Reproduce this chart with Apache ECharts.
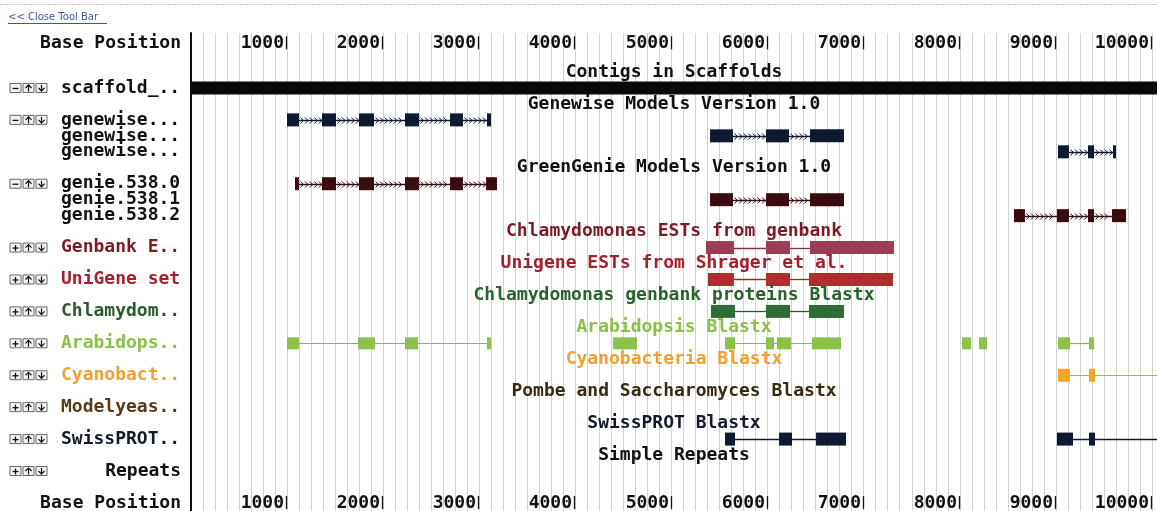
<!doctype html>
<html>
<head>
<meta charset="utf-8">
<title>Genome browser tracks</title>
<script src="https://cdn.jsdelivr.net/npm/echarts@6/dist/echarts.min.js"></script>
<style>
html, body { margin: 0; padding: 0; background: #fff; }
#main { width: 1157px; height: 511px; }
</style>
</head>
<body>
<div id="main"></div>
<script>
// ---- data (positions in bases, rows counted from the "Contigs in Scaffolds" title) ----
var baseMax = 10052;
var tickValues = [1000, 2000, 3000, 4000, 5000, 6000, 7000, 8000, 9000, 10000];
var tickRows = [-1.8, 27];

var titleNames = ['Contigs in Scaffolds', 'Genewise Models Version 1.0', 'GreenGenie Models Version 1.0',
  'Chlamydomonas ESTs from genbank', 'Unigene ESTs from Shrager et al.', 'Chlamydomonas genbank proteins Blastx',
  'Arabidopsis Blastx', 'Cyanobacteria Blastx', 'Pombe and Saccharomyces Blastx', 'SwissPROT Blastx', 'Simple Repeats'];
var titleRows = [0, 2, 6, 10, 12, 14, 16, 18, 20, 22, 24];
var titleCenter = 5026;

var sideNames = ['scaffold_..', 'genewise...', 'genewise...', 'genewise...', 'genie.538.0', 'genie.538.1', 'genie.538.2',
  'Genbank E..', 'UniGene set', 'Chlamydom..', 'Arabidops..', 'Cyanobact..', 'Modelyeas..', 'SwissPROT..', 'Repeats'];
var sideRows = [1, 3, 4, 5, 7, 8, 9, 11, 13, 15, 17, 19, 21, 23, 25];
var sideButtons = ['-', '-', '', '', '-', '', '', '+', '+', '+', '+', '+', '+', '+', '+'];

var scaffold = [[0, 10052]];
var genewise1 = [[999, 1124], [1363, 1509], [1748, 1904], [2227, 2373], [2695, 2830], [3080, 3122]];
var genewise2 = [[5401, 5640], [5983, 6223], [6441, 6795]];
var genewise3 = [[9022, 9136], [9334, 9397], [9594, 9615]];
var genie0 = [[1082, 1124], [1363, 1509], [1748, 1904], [2227, 2373], [2695, 2830], [3070, 3184]];
var genie1 = [[5401, 5640], [5983, 6223], [6441, 6795]];
var genie2 = [[8564, 8678], [9011, 9136], [9334, 9397], [9584, 9730]];
var genbankEst = [[5359, 5650], [5983, 6233], [6441, 7315]];
var unigeneEst = [[5380, 5650], [5983, 6233], [6431, 7305]];
var chlamProt = [[5411, 5661], [5983, 6233], [6431, 6795]];
var arabidopsis = [[999, 1124], [1738, 1915], [2227, 2362], [3080, 3122], [4391, 4641], [5557, 5661], [5983, 6067],
  [6098, 6243], [6462, 6764], [8023, 8117], [8200, 8283], [9022, 9147], [9344, 9397]];
var arabidopsisLinks = [[1124, 3080], [5661, 6462], [9147, 9344]];
var cyano = [[9022, 9147], [9344, 9407]];
var cyanoLinks = [[9147, 10060]];
var swissprot = [[5557, 5661], [6119, 6254], [6504, 6816], [9011, 9178], [9344, 9407]];
var swissprotLinks = [[5661, 6504], [9178, 10060]];

// ---- styles ----
var FONT = 'bold 18px "DejaVu Sans Mono"';
var titleColors = ['#111', '#111', '#111', '#7c1a2a', '#a3202c', '#2a622c', '#8cc04a', '#f0a030', '#3a2a12', '#141a2a', '#111'];
var sideColors = ['#111', '#111', '#111', '#111', '#111', '#111', '#111', '#7c1a2a', '#a3202c', '#2a5a2a', '#8cc04a', '#f0a030', '#5a3a18', '#141a2a', '#111'];

function gaps(exons) {
  var out = [];
  for (var i = 1; i < exons.length; i++) out.push([exons[i - 1][1], exons[i][0]]);
  return out;
}

function boxSeries(list, row, color, h) {
  return {
    type: 'custom', silent: true, clip: true, z: 4,
    encode: { x: [0, 1], y: 2 },
    data: list.map(function (d) { return [d[0], d[1], row]; }),
    renderItem: function (params, api) {
      var a = api.coord([api.value(0), api.value(2)]);
      var b = api.coord([api.value(1), api.value(2)]);
      return { type: 'rect', shape: { x: a[0], y: a[1] - h / 2, width: Math.max(b[0] - a[0], 3), height: h },
        style: { fill: color } };
    }
  };
}

function lineSeries(list, row, color, width, arrows) {
  return {
    type: 'custom', silent: true, clip: true, z: 3,
    encode: { x: [0, 1], y: 2 },
    data: list.map(function (d) { return [d[0], d[1], row]; }),
    renderItem: function (params, api) {
      var a = api.coord([api.value(0), api.value(2)]);
      var b = api.coord([api.value(1), api.value(2)]);
      var y = Math.round(a[1]) + 0.5;
      var kids = [{ type: 'line', shape: { x1: a[0], y1: y, x2: b[0], y2: y }, style: { stroke: color, lineWidth: width } }];
      if (arrows) {
        for (var x = a[0] + 3.5; x < b[0] - 1; x += 4.6) {
          kids.push({ type: 'polyline', shape: { points: [[x - 2, y - 3], [x + 1, y], [x - 2, y + 3]] },
            style: { stroke: color, lineWidth: 1, fill: null } });
        }
      }
      return { type: 'group', children: kids };
    }
  };
}

function textSeries(values, names, colors) {
  return {
    type: 'custom', silent: true, clip: false, z: 5,
    encode: { x: 0, y: 1 },
    data: values,
    renderItem: function (params, api) {
      var p = api.coord([api.value(0), api.value(1)]);
      return { type: 'text', x: p[0], y: p[1],
        style: { text: names[params.dataIndex], fill: colors[params.dataIndex], font: FONT, align: 'center', verticalAlign: 'middle' } };
    }
  };
}

// ruler: number followed by a short bar marking the exact base
function tickSeries(values) {
  return {
    type: 'custom', silent: true, clip: false, z: 5,
    encode: { x: 0, y: 1 },
    data: values,
    renderItem: function (params, api) {
      var p = api.coord([api.value(0), api.value(1)]);
      var x = Math.round(p[0]) - 0.5;
      return { type: 'group', children: [
        { type: 'text', x: x - 2.5, y: p[1], style: { text: String(api.value(0)), fill: '#111', font: FONT, align: 'right', verticalAlign: 'middle' } },
        { type: 'line', shape: { x1: x, y1: p[1] - 7, x2: x, y2: p[1] + 6 }, style: { stroke: '#111', lineWidth: 1.3 } }
      ] };
    }
  };
}

var tickData = [];
tickRows.forEach(function (r) {
  tickValues.forEach(function (v) { tickData.push([v, r]); });
});

var geneNavy = '#0e1a30', genieRed = '#3a0c12';
var series = [
  boxSeries(scaffold, 1, '#0a0a0a', 13),
  lineSeries(gaps(genewise1), 3, geneNavy, 1.5, true), boxSeries(genewise1, 3, geneNavy, 13),
  lineSeries(gaps(genewise2), 4, geneNavy, 1.5, true), boxSeries(genewise2, 4, geneNavy, 13),
  lineSeries(gaps(genewise3), 5, geneNavy, 1.5, true), boxSeries(genewise3, 5, geneNavy, 13),
  lineSeries(gaps(genie0), 7, genieRed, 1.5, true), boxSeries(genie0, 7, genieRed, 13),
  lineSeries(gaps(genie1), 8, genieRed, 1.5, true), boxSeries(genie1, 8, genieRed, 13),
  lineSeries(gaps(genie2), 9, genieRed, 1.5, true), boxSeries(genie2, 9, genieRed, 13),
  lineSeries(gaps(genbankEst), 11, '#8a3048', 1.3, false), boxSeries(genbankEst, 11, '#9a3d56', 13),
  lineSeries(gaps(unigeneEst), 13, '#a02828', 1.3, false), boxSeries(unigeneEst, 13, '#b02e30', 13),
  lineSeries(gaps(chlamProt), 15, '#2a6030', 1.3, false), boxSeries(chlamProt, 15, '#2f6c38', 13),
  lineSeries(arabidopsisLinks, 17, '#86bc44', 1.2, false), boxSeries(arabidopsis, 17, '#8cc24a', 12),
  lineSeries(cyanoLinks, 19, '#f0a020', 1.2, false), boxSeries(cyano, 19, '#f5a623', 13),
  lineSeries(swissprotLinks, 23, '#0e1a30', 1.3, false), boxSeries(swissprot, 23, '#0e1a30', 13),
  textSeries(titleRows.map(function (r) { return [titleCenter, r]; }), titleNames, titleColors),
  tickSeries(tickData)
];

var option = {
  animation: false,
  backgroundColor: '#fff',
  grid: { left: 191, right: 0, top: 33, bottom: 0 },
  xAxis: {
    type: 'value', min: 0, max: baseMax, interval: 125,
    axisLine: { show: false }, axisTick: { show: false }, axisLabel: { show: false },
    splitLine: { show: true, lineStyle: { color: '#d2d2d2', width: 1 } }
  },
  yAxis: {
    type: 'value', inverse: true, min: -2.444, max: 27.506,
    axisLine: { show: true, lineStyle: { color: '#111', width: 2 } },
    axisTick: { show: false }, axisLabel: { show: false }, splitLine: { show: false }
  },
  series: series
};

var myChart = echarts.init(document.getElementById('main'));
myChart.setOption(option);

// left hand labels and the little +/up/down buttons, placed on the chart's own rows
function rowY(r) { return myChart.convertToPixel({ gridIndex: 0 }, [0, r])[1]; }

function button(x, y, kind) {
  var kids = [{ type: 'rect', shape: { x: x, y: y - 4.5, width: 11, height: 9 }, style: { fill: '#f4f4f4', stroke: '#666', lineWidth: 1 } }];
  var cx = x + 5.5;
  if (kind === '-' || kind === '+') {
    kids.push({ type: 'line', shape: { x1: x + 2.5, y1: y + 0.5, x2: x + 8.5, y2: y + 0.5 }, style: { stroke: '#111', lineWidth: 1.3 } });
    if (kind === '+') kids.push({ type: 'line', shape: { x1: cx, y1: y - 2.5, x2: cx, y2: y + 3.5 }, style: { stroke: '#111', lineWidth: 1.3 } });
  } else {
    var up = kind === 'up';
    kids.push({ type: 'line', shape: { x1: cx, y1: y - 3, x2: cx, y2: y + 3.5 }, style: { stroke: '#111', lineWidth: 1.2 } });
    kids.push({ type: 'polyline', shape: { points: up ? [[cx - 3, y], [cx, y - 3], [cx + 3, y]] : [[cx - 3, y], [cx, y + 3], [cx + 3, y]] },
      style: { stroke: '#111', lineWidth: 1.2, fill: null } });
  }
  return kids;
}

var graphics = [
  { type: 'line', shape: { x1: 0, y1: 4.5, x2: 1157, y2: 4.5 }, style: { stroke: '#c4c4c4', lineWidth: 1, lineDash: [2, 1] } },
  { type: 'text', x: 8, y: 17, style: { text: '<< Close Tool Bar', font: '10px "DejaVu Sans"', fill: '#3a56a8', verticalAlign: 'middle' } },
  { type: 'line', shape: { x1: 8, y1: 23.5, x2: 107, y2: 23.5 }, style: { stroke: '#3a56a8', lineWidth: 1 } },
  { type: 'text', x: 181, y: rowY(tickRows[0]), style: { text: 'Base Position', font: FONT, fill: '#111', align: 'right', verticalAlign: 'middle' } },
  { type: 'text', x: 181, y: rowY(tickRows[1]), style: { text: 'Base Position', font: FONT, fill: '#111', align: 'right', verticalAlign: 'middle' } }
];
sideNames.forEach(function (name, i) {
  var y = rowY(sideRows[i]);
  var right = name === 'Repeats';
  graphics.push({ type: 'text', x: right ? 181 : 61, y: y,
    style: { text: name, font: FONT, fill: sideColors[i], align: right ? 'right' : 'left', verticalAlign: 'middle' } });
  if (sideButtons[i]) {
    graphics = graphics.concat(button(10, y, sideButtons[i]), button(23, y, 'up'), button(36, y, 'down'));
  }
});
myChart.setOption({ graphic: graphics });
</script>
</body>
</html>
